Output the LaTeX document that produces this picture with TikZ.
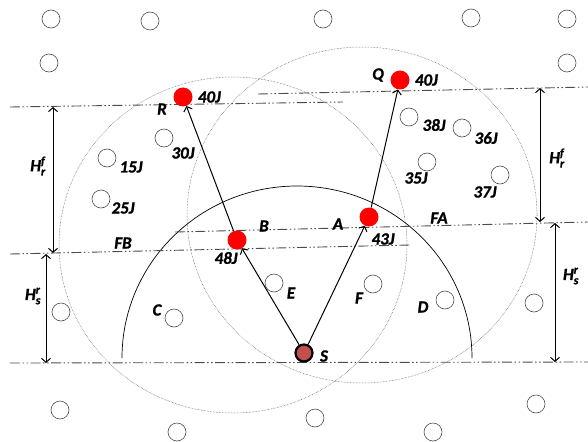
\documentclass[tikz,border=0pt]{standalone}
\usepackage{fontspec}
\setmainfont{Carlito}[BoldItalicFeatures={FakeBold=1.2}]
\usepackage{amsmath}
\usetikzlibrary{positioning, arrows.meta}
\definecolor{srcred}{HTML}{C0504D}

\tikzset{
  lbl/.style={font=\fontsize{17}{19}\selectfont\bfseries\itshape, inner sep=0pt},
  hollow/.style={circle, draw=black!70, line width=0.6pt, minimum size=18pt, inner sep=0pt},
  relay/.style={circle, fill=red, minimum size=19pt, inner sep=0pt},
  srcnode/.style={circle, fill=srcred, draw=black, line width=2.2pt, minimum size=17pt, inner sep=0pt},
  tierline/.style={black!70, line width=0.9pt, dash pattern=on 10pt off 2.5pt on 1.5pt off 2.5pt on 1.5pt off 2.5pt},
  reach/.style={black!70, line width=0.5pt, densely dotted},
  hop/.style={-{Straight Barb[length=4pt, width=9pt]}, line width=1pt},
  heightbar/.style={{Straight Barb[length=4pt, width=9pt]}-{Straight Barb[length=4pt, width=9pt]}, line width=1pt}
}

\begin{document}
\begin{tikzpicture}[x=1pt, y=-1pt]
  \useasboundingbox (0,0) rectangle (588,441);
  % ranges
  \draw[reach] (233,245) ellipse[x radius=174pt, y radius=168pt];
  \draw[reach] (362,215) ellipse[x radius=175pt, y radius=168pt];
  \draw[line width=0.7pt] (122,358) arc[start angle=180, end angle=0, x radius=175pt, y radius=172pt];

  % levels
  \draw[tierline] (10,107) -- (343,102);
  \draw[tierline] (258,94) -- (588,87);
  \draw[tierline] (175,232) -- (588,222);
  \draw[tierline] (10,254) -- (410,245);
  \draw[tierline] (10,363) -- (588,362);

  % heights
  \coordinate (lt) at (53,107);  \coordinate (lm) at (53,253);
  \coordinate (ls) at (46,254);  \coordinate (lb) at (46,363);
  \coordinate (rt) at (540,88);  \coordinate (rm) at (540,222);
  \coordinate (rs) at (555,223); \coordinate (rb) at (555,362);
  \draw[heightbar] (lt) -- (lm);
  \draw[heightbar] (ls) -- (lb);
  \draw[heightbar] (rt) -- (rm);
  \draw[heightbar] (rs) -- (rb);
  \node[lbl] (hrl) at (38,166) {$\text{H}_{\text{r}}^{\text{f}}$};
  \node[lbl] (hsl) at (33,296) {$\text{H}_{\text{s}}^{\text{r}}$};
  \node[lbl] (hrr) at (557,158) {$\text{H}_{\text{r}}^{\text{f}}$};
  \node[lbl] (hsr) at (571,276) {$\text{H}_{\text{s}}^{\text{r}}$};

  % other nodes
  \foreach \p [count=\i] in {(51,19),(150,21),(323,19),(471,18),(567,19),(49,63),(567,63),
      (61,312),(534,303),(60,410),(177,432),(315,418),(433,432),(536,404)}
    \node[hollow] (n\i) at \p {};
  \foreach \x/\y/\t/\lx/\ly in {164/138/30J/183/153, 107/158/15J/131/167, 101/199/25J/123/208,
      174/318/C/157/310, 274/283/E/291/293, 373/284/F/359/298, 445/300/D/423/307,
      409/117/38J/434/125, 462/128/36J/486/138, 427/162/35J/416/178, 500/175/37J/485/192}
  {
    \node[hollow] (c\t) at (\x,\y) {};
    \node[lbl] at (\lx,\ly) {\t};
  }

  % route
  \node[srcnode] (S) at (304,353) {};
  \node[relay] (B) at (237,240) {};
  \node[relay] (A) at (369,217) {};
  \node[relay] (R) at (183,97) {};
  \node[relay] (Q) at (400,80) {};
  \draw[hop] (S) -- (B);
  \draw[hop] (S) -- (A);
  \draw[hop] (B) -- (R);
  \draw[hop] (A) -- (Q);

  \node[lbl] at (324,356) {S};
  \node[lbl] at (264,226) {B};
  \node[lbl] at (226,258) {48J};
  \node[lbl] at (338,224) {A};
  \node[lbl] at (383,239) {43J};
  \node[lbl] at (162,109) {R};
  \node[lbl, right=5pt of R] {40J};
  \node[lbl] at (378,75) {Q};
  \node[lbl, right=5pt of Q] {40J};
  \node[lbl] at (123,243) {FB};
  \node[lbl] at (439,218) {FA};
\end{tikzpicture}
\end{document}
